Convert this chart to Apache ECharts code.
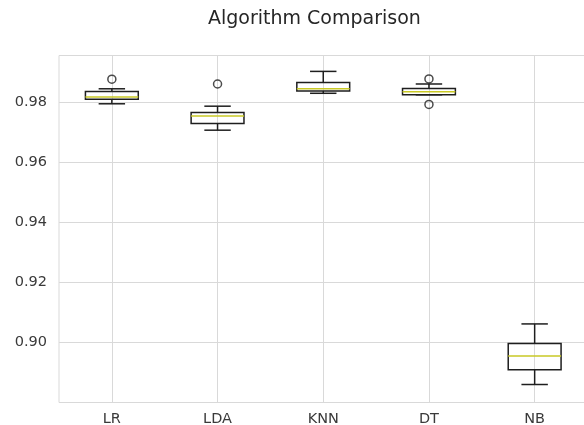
<!DOCTYPE html>
<html>
<head>
<meta charset="utf-8">
<script src="https://cdn.jsdelivr.net/npm/echarts@6/dist/echarts.min.js"></script>
<style>
  html, body { margin: 0; padding: 0; background: #ffffff; }
  #chart { width: 584px; height: 425px; }
</style>
</head>
<body>
<div id="chart"></div>
<script>
// Cross-validation accuracy of each classifier, summarised as box statistics
const categories = ['LR', 'LDA', 'KNN', 'DT', 'NB'];
const whiskerLow  = [0.9796, 0.9708, 0.9831, 0.9826, 0.8860];
const quartile1   = [0.9811, 0.9730, 0.9839, 0.9826, 0.8909];
const medians     = [0.9819, 0.9755, 0.9846, 0.9836, 0.8955];
const quartile3   = [0.9837, 0.9767, 0.9867, 0.9847, 0.8997];
const whiskerHigh = [0.9846, 0.9788, 0.9904, 0.9862, 0.9062];
// Fliers: [category index, accuracy]
const fliers = [[0, 0.9878], [1, 0.9862], [3, 0.9879], [3, 0.9794]];
const yTicks = [0.88, 0.90, 0.92, 0.94, 0.96, 0.98];

const boxRows = categories.map((c, i) => [i, whiskerLow[i], quartile1[i], medians[i], quartile3[i], whiskerHigh[i]]);

const LINE = '#1e1e1e';
const MEDIAN = '#c9c924';
const GRID = '#d9d9d9';
const FONT = 'DejaVu Sans';

const chart = echarts.init(document.getElementById('chart'), null, { renderer: 'canvas' });

function renderBox(params, api) {
  const idx = api.value(0);
  const band = api.size([1, 0])[0];
  const half = band * 0.25;     // box width = 0.5 of category spacing
  const capHalf = band * 0.125; // caps are half the box width
  const pLow = api.coord([idx, api.value(1)]);
  const pQ1 = api.coord([idx, api.value(2)]);
  const pMed = api.coord([idx, api.value(3)]);
  const pQ3 = api.coord([idx, api.value(4)]);
  const pHigh = api.coord([idx, api.value(5)]);
  const cx = pQ1[0];
  const st = { stroke: LINE, lineWidth: 1.5, fill: null };
  const line = (x1, y1, x2, y2, style) => ({ type: 'line', shape: { x1, y1, x2, y2 }, style });
  return {
    type: 'group',
    children: [
      line(cx, pQ1[1], cx, pLow[1], st),
      line(cx, pQ3[1], cx, pHigh[1], st),
      line(cx - capHalf, pLow[1], cx + capHalf, pLow[1], st),
      line(cx - capHalf, pHigh[1], cx + capHalf, pHigh[1], st),
      { type: 'rect', shape: { x: cx - half, y: pQ3[1], width: half * 2, height: pQ1[1] - pQ3[1] },
        style: { stroke: LINE, lineWidth: 1.5, fill: null } },
      line(cx - half, pMed[1], cx + half, pMed[1], { stroke: MEDIAN, lineWidth: 1.5 })
    ]
  };
}

chart.setOption({
  animation: false,
  backgroundColor: '#ffffff',
  title: {
    text: 'Algorithm Comparison',
    left: 208,
    top: 10,
    padding: 0,
    textStyle: { fontFamily: FONT, fontSize: 19, fontWeight: 'normal', color: '#262626' }
  },
  grid: {
    left: 59, top: 55.5, width: 528.5, height: 347,
    outerBoundsMode: 'none',
    containLabel: false,
    show: true, borderColor: GRID, borderWidth: 1, backgroundColor: 'transparent'
  },
  xAxis: {
    type: 'category',
    data: categories,
    boundaryGap: true,
    axisLine: { show: false },
    axisTick: { show: false },
    axisLabel: { fontFamily: FONT, fontSize: 14.5, color: '#3a3a3a', margin: 9 },
    splitLine: { show: true, alignWithLabel: true, lineStyle: { color: GRID, width: 1 } }
  },
  yAxis: {
    type: 'value',
    min: yTicks[0],
    max: 0.9957,
    interval: 0.02,
    axisLine: { show: false },
    axisTick: { show: false },
    axisLabel: {
      fontFamily: FONT, fontSize: 14.5, color: '#3a3a3a', margin: 12,
      showMinLabel: false, showMaxLabel: false,
      formatter: v => v.toFixed(2)
    },
    splitLine: { show: true, lineStyle: { color: GRID, width: 1 } }
  },
  series: [
    {
      type: 'custom',
      data: boxRows,
      encode: { x: 0, y: [1, 2, 3, 4, 5] },
      renderItem: renderBox,
      z: 3
    },
    {
      type: 'scatter',
      data: fliers,
      symbol: 'circle',
      symbolSize: 8,
      itemStyle: { color: 'rgba(255,255,255,0)', borderColor: LINE, borderWidth: 1.5 },
      z: 4
    }
  ]
});
</script>
</body>
</html>
